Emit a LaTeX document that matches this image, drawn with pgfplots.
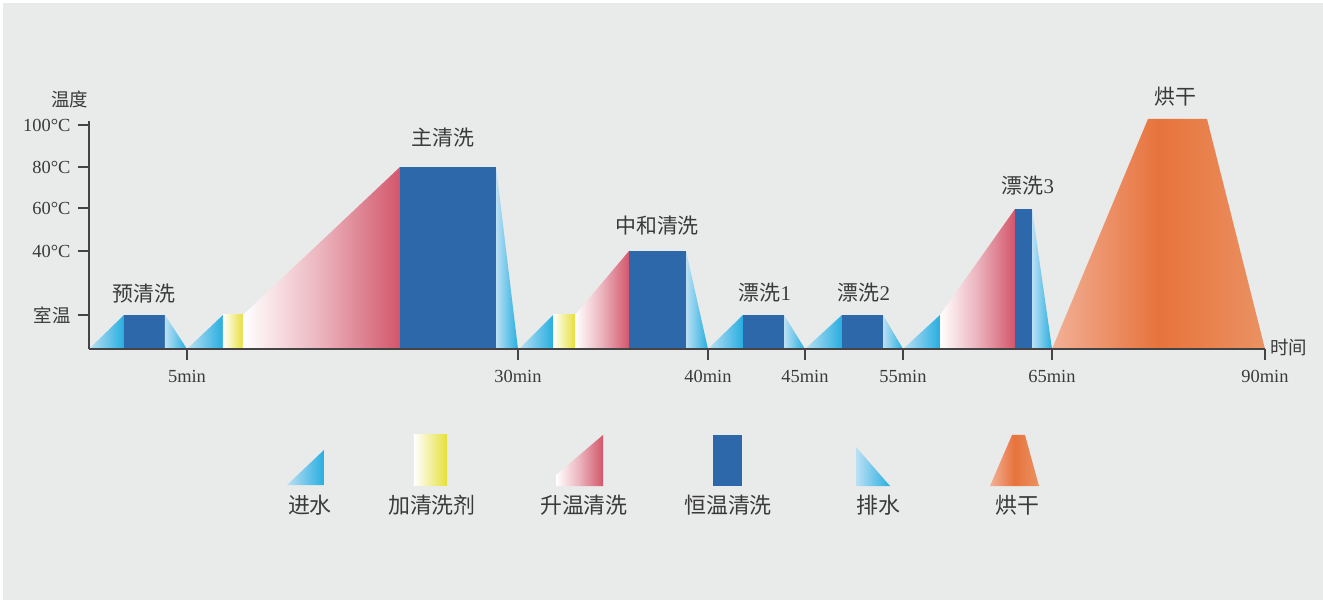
\documentclass[border=0pt]{standalone}
\usepackage{pgfplots}
\pgfplotsset{compat=1.18}
\usepackage{fontspec}
\setmainfont{Liberation Serif}
\newfontfamily\cjk{Noto Sans CJK SC}
\definecolor{bg}{HTML}{E9EAEA}
\definecolor{wlight}{HTML}{BBE0F4}
\definecolor{wcyan}{HTML}{27AEE0}
\definecolor{ybar}{HTML}{E6E03A}
\definecolor{heat}{HTML}{D3566B}
\definecolor{hold}{HTML}{2D68AA}
\definecolor{dryL}{HTML}{F2B096}
\definecolor{dryM}{HTML}{E7733C}
\definecolor{dryR}{HTML}{EA9262}
\definecolor{txt}{HTML}{3A3A3A}
\definecolor{axc}{HTML}{444444}
\tikzset{
  fin/.style={draw=none, left color=wlight, right color=wcyan},
  fout/.style={draw=none, left color=wlight, right color=wcyan},
  agent/.style={draw=none, left color=white, right color=ybar},
  heatup/.style={draw=none, left color=white, right color=heat, middle color=heat!45!white},
  holdT/.style={draw=none, fill=hold},
  dry/.style={draw=none, left color=dryL, right color=dryR, middle color=dryM},
  lab/.style={text=txt, font=\cjk\fontsize{21}{24}\selectfont, inner sep=0pt},
  leg/.style={text=txt, font=\cjk\fontsize{22}{25}\selectfont, inner sep=0pt},
}
\begin{document}
\begin{tikzpicture}
\path[use as bounding box] (-89bp,-251bp) rectangle (1234bp,349bp);
\fill[white] (-89bp,-251bp) rectangle (1234bp,349bp);
\fill[bg] (-86bp,-251bp) rectangle (1234bp,346bp);
\begin{axis}[
  anchor=origin, at={(0,0)},
  x=1bp, y=1bp,
  xmin=0, xmax=1176, ymin=0, ymax=228,
  axis x line=bottom, axis y line=left,
  axis line style={-, draw=axc, line width=1.6bp},
  every inner x axis line/.append style={-},
  every inner y axis line/.append style={-},
  clip=false, axis on top,
  xtick={98,429,619,716,814,963,1176},
  xticklabels={5min,30min,40min,45min,55min,65min,90min},
  ytick={34,98,141,182,224},
  yticklabels={{\cjk\fontsize{18.5}{20}\selectfont 室温},40°C,60°C,80°C,100°C},
  tick align=outside,
  major tick length=11bp,
  tick style={draw=axc, line width=1.4bp},
  xticklabel style={font=\fontsize{18.5}{20}\selectfont, text=txt, yshift=-7bp},
  yticklabel style={font=\fontsize{18.5}{20}\selectfont, text=txt, xshift=-4bp},
]
% 预清洗
\addplot[fin] coordinates {(0,0) (35,34) (35,0)} -- cycle;
\addplot[holdT] coordinates {(35,0) (35,34) (76,34) (76,0)} -- cycle;
\addplot[fout] coordinates {(76,0) (76,34) (98,0)} -- cycle;
% 主清洗
\addplot[fin] coordinates {(98,0) (134,34) (134,0)} -- cycle;
\addplot[agent] coordinates {(134,0) (134,34) (154,34) (154,0)} -- cycle;
\addplot[heatup] coordinates {(154,0) (154,34) (311,182) (311,0)} -- cycle;
\addplot[holdT] coordinates {(311,0) (311,182) (407,182) (407,0)} -- cycle;
\addplot[fout] coordinates {(407,0) (407,182) (429,0)} -- cycle;
% 中和清洗
\addplot[fin] coordinates {(430,0) (464,34) (464,0)} -- cycle;
\addplot[agent] coordinates {(464,0) (464,34) (486,34) (486,0)} -- cycle;
\addplot[heatup] coordinates {(486,0) (486,34) (540,98) (540,0)} -- cycle;
\addplot[holdT] coordinates {(540,0) (540,98) (597,98) (597,0)} -- cycle;
\addplot[fout] coordinates {(597,0) (597,98) (619,0)} -- cycle;
% 漂洗1
\addplot[fin] coordinates {(619,0) (654,34) (654,0)} -- cycle;
\addplot[holdT] coordinates {(654,0) (654,34) (695,34) (695,0)} -- cycle;
\addplot[fout] coordinates {(695,0) (695,34) (716,0)} -- cycle;
% 漂洗2
\addplot[fin] coordinates {(716,0) (753,34) (753,0)} -- cycle;
\addplot[holdT] coordinates {(753,0) (753,34) (794,34) (794,0)} -- cycle;
\addplot[fout] coordinates {(794,0) (794,34) (814,0)} -- cycle;
% 漂洗3
\addplot[fin] coordinates {(814,0) (851,34) (851,0)} -- cycle;
\addplot[heatup] coordinates {(851,0) (851,34) (926,140) (926,0)} -- cycle;
\addplot[holdT] coordinates {(926,0) (926,140) (943,140) (943,0)} -- cycle;
\addplot[fout] coordinates {(943,0) (943,140) (963,0)} -- cycle;
% 烘干
\addplot[dry] coordinates {(963,0) (1059,230) (1118,230) (1176,0)} -- cycle;
% legend shapes
\addplot[fin] coordinates {(198,-136) (235,-101) (235,-136)} -- cycle;
\addplot[agent] coordinates {(325,-137) (325,-86) (358,-86) (358,-137)} -- cycle;
\addplot[heatup] coordinates {(467,-137) (467,-126) (514,-86) (514,-137)} -- cycle;
\addplot[holdT] coordinates {(624,-137) (624,-86) (653,-86) (653,-137)} -- cycle;
\addplot[fout] coordinates {(767,-137) (767,-98) (801,-137)} -- cycle;
\addplot[dry] coordinates {(901,-137) (923,-86) (936,-86) (950,-137)} -- cycle;
% stage labels
\node[lab] at (axis cs:55,55) {预清洗};
\node[lab] at (axis cs:354,211) {主清洗};
\node[lab] at (axis cs:568,123) {中和清洗};
\node[lab] at (axis cs:676,56) {漂洗\rmfamily 1};
\node[lab] at (axis cs:775,56) {漂洗\rmfamily 2};
\node[lab] at (axis cs:939,163) {漂洗\rmfamily 3};
\node[lab] at (axis cs:1086,252) {烘干};
\node[lab, font=\cjk\fontsize{18.5}{20}\selectfont] at (axis cs:-19,250) {温度};
\node[lab, font=\cjk\fontsize{18.5}{20}\selectfont, anchor=west] at (axis cs:1181,1) {时间};
% legend labels
\node[leg] at (axis cs:221,-156) {进水};
\node[leg] at (axis cs:343,-156) {加清洗剂};
\node[leg] at (axis cs:495,-156) {升温清洗};
\node[leg] at (axis cs:639,-156) {恒温清洗};
\node[leg] at (axis cs:789,-156) {排水};
\node[leg] at (axis cs:928,-156) {烘干};
\end{axis}
\end{tikzpicture}
\end{document}
